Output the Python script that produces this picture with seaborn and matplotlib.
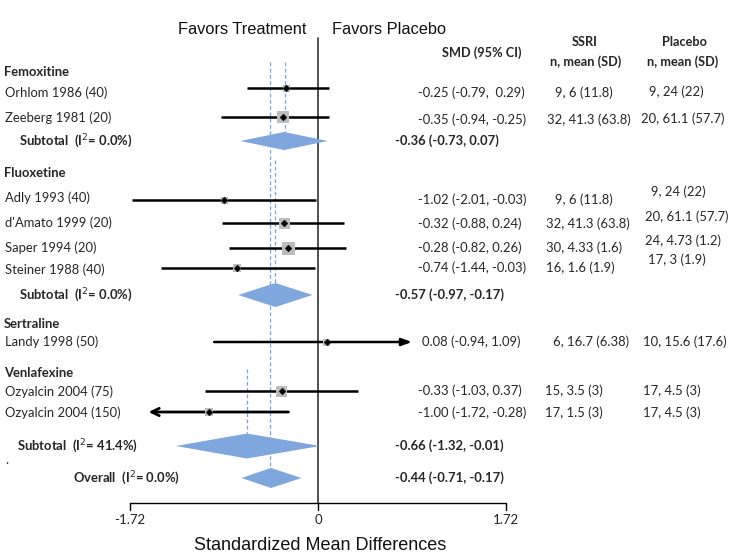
import numpy as np
import pandas as pd
import matplotlib
matplotlib.use("Agg")
import matplotlib.pyplot as plt
import seaborn as sns

# ---------------- data ----------------
drugs = ["Femoxitine", "Fluoxetine", "Sertraline", "Venlafexine"]
studies = ["Orhlom 1986 (40)", "Zeeberg 1981 (20)", "Adly 1993 (40)", "d'Amato 1999 (20)",
           "Saper 1994 (20)", "Steiner 1988 (40)", "Landy 1998 (50)",
           "Ozyalcin 2004 (75)", "Ozyalcin 2004 (150)"]
study_drug = ["Femoxitine", "Femoxitine", "Fluoxetine", "Fluoxetine", "Fluoxetine",
              "Fluoxetine", "Sertraline", "Venlafexine", "Venlafexine"]
# plotted estimates / CI ends as drawn
est = [-0.29, -0.32, -0.86, -0.31, -0.27, -0.74, 0.08, -0.33, -1.00]
ci_lo = [-0.65, -0.89, -1.70, -0.88, -0.81, -1.44, -0.95, -1.03, -1.55]
ci_hi = [0.10, 0.10, -0.02, 0.24, 0.26, -0.03, 0.86, 0.37, -0.27]
weight = [7, 12, 7, 11, 13, 8, 7, 11, 8]
arrow = ["", "", "", "", "", "", "right", "", "left"]
smd_text = ["-0.25 (-0.79,  0.29)", "-0.35 (-0.94, -0.25)", "-1.02 (-2.01, -0.03)",
            "-0.32 (-0.88, 0.24)", "-0.28 (-0.82, 0.26)", "-0.74 (-1.44, -0.03)",
            "0.08 (-0.94, 1.09)", "-0.33 (-1.03, 0.37)", "-1.00 (-1.72, -0.28)"]
ssri_text = ["9, 6 (11.8)", "32, 41.3 (63.8)", "9, 6 (11.8)", "32, 41.3 (63.8)",
             "30, 4.33 (1.6)", "16, 1.6 (1.9)", "6, 16.7 (6.38)", "15, 3.5 (3)", "17, 1.5 (3)"]
placebo_text = ["9, 24 (22)", "20, 61.1 (57.7)", "9, 24 (22)", "20, 61.1 (57.7)",
                "24, 4.73 (1.2)", "17, 3 (1.9)", "10, 15.6 (17.6)", "17, 4.5 (3)", "17, 4.5 (3)"]

pooled_names = ["Femoxitine", "Fluoxetine", "Venlafexine", "Overall"]
pooled_est = [-0.31, -0.39, -0.65, -0.43]
pooled_lo = [-0.71, -0.73, -1.30, -0.70]
pooled_hi = [0.09, -0.05, 0.02, -0.15]
pooled_label = ["Subtotal  (I$^2$= 0.0%)", "Subtotal  (I$^2$= 0.0%)",
                "Subtotal  (I$^2$= 41.4%)", "Overall  (I$^2$= 0.0%)"]
pooled_text = ["-0.36 (-0.73, 0.07)", "-0.57 (-0.97, -0.17)",
               "-0.66 (-1.32, -0.01)", "-0.44 (-0.71, -0.17)"]
ref_line = [-0.30, -0.39, -0.65, -0.44]

xticks = [-1.72, 0, 1.72]
xtick_labels = ["-1.72", "0", "1.72"]

# ---------------- layout (pixel rows) ----------------
W, H, DPI = 738, 554, 100
ZERO_PX, SCALE = 318.0, 109.3


def px2x(px):
    return (px - ZERO_PX) / SCALE


study_y = [88, 117, 200, 223, 248, 268, 342, 391, 412]
label_y = [93, 118, 198, 223, 248, 270, 342, 392, 413]
smd_y = [93, 120, 200, 224, 248, 268, 342, 391, 413]
ssri_x = [555, 547, 555, 546, 546, 546, 553, 545, 545]
plac_x = [649, 641, 651, 645, 645, 648, 643, 643, 643]
plac_y = [92, 119, 192, 217, 241, 260, 342, 391, 413]
head_y = [72, 173, 324, 373]
pooled_y = [141, 295, 446, 478]
pooled_h = [9, 12, 12.5, 10]
pooled_lab_x = [19, 19, 17, 73]
ref_y0 = [62, 160, 369, 62]
ref_y1 = [132, 283, 433, 468]

df = pd.DataFrame(dict(study=studies, drug=study_drug, est=est, lo=ci_lo, hi=ci_hi,
                       w=weight, y=study_y))

sns.set_theme(style="white")
plt.rcParams["font.family"] = ["Lato", "DejaVu Sans"]

fig = plt.figure(figsize=(W / DPI, H / DPI), dpi=DPI)
ax = fig.add_axes([0, 0, 1, 1])

DASH = "#7aa6da"
DIAM = "#7fa7dd"
SQ = "#bdbdbd"

# reference dashed lines
for xv, y0, y1 in zip(ref_line, ref_y0, ref_y1):
    ax.plot([xv, xv], [y0, y1], color=DASH, lw=0.9, ls=(0, (3, 2)), zorder=1)

# zero line
ax.plot([0, 0], [38, 503], color="#333333", lw=1.2, zorder=2)

# CI lines
for i, r in df.iterrows():
    if arrow[i] == "right":
        ax.annotate("", xy=(r.hi, r.y), xytext=(r.lo, r.y),
                    arrowprops=dict(arrowstyle="-|>,head_length=0.5,head_width=0.18",
                                    color="black", lw=1.8, shrinkA=0, shrinkB=0), zorder=3)
    elif arrow[i] == "left":
        ax.annotate("", xy=(r.lo, r.y), xytext=(r.hi, r.y),
                    arrowprops=dict(arrowstyle="->,head_length=0.45,head_width=0.22",
                                    color="black", lw=2.0, shrinkA=0, shrinkB=0), zorder=3)
    else:
        ax.plot([r.lo, r.hi], [r.y, r.y], color="black", lw=1.8, zorder=3,
                solid_capstyle="butt")

# squares
ax.scatter(df["est"], df["y"], marker="s", s=(df["w"] * 72 / DPI) ** 2,
           color=SQ, edgecolor="none", zorder=4)
# centre dots
sns.scatterplot(data=df, x="est", y="y", marker="D", s=12, color="black",
                edgecolor="black", linewidth=0.3, ax=ax, zorder=5, legend=False)

# diamonds
for c, lo, hi, yy, hh in zip(pooled_est, pooled_lo, pooled_hi, pooled_y, pooled_h):
    ax.fill([lo, c, hi, c], [yy, yy - hh, yy, yy + hh], color=DIAM, lw=0, zorder=3)

# x axis
ax.plot([xticks[0], xticks[-1]], [503, 503], color="black", lw=1.0, zorder=2)
for t, lab in zip(xticks, xtick_labels):
    ax.plot([t, t], [503, 510], color="black", lw=1.0)
    ax.text(t, 520, lab, ha="center", va="center", fontsize=9.5, color="#222222")

ax.text(px2x(320), 545, "Standardized Mean Differences", ha="center", va="center",
        fontsize=13, family=["Liberation Sans"], color="#111111")
ax.text(px2x(242), 30, "Favors Treatment", ha="center", va="center",
        fontsize=11.8, family=["Liberation Sans"], color="#111111")
ax.text(px2x(389), 30, "Favors Placebo", ha="center", va="center",
        fontsize=11.8, family=["Liberation Sans"], color="#111111")

# column headers
HFS = 9.2
ax.text(px2x(482), 53, "SMD (95% CI)", ha="center", va="center", fontsize=HFS, weight="bold")
ax.text(px2x(585), 42, "SSRI", ha="center", va="center", fontsize=HFS, weight="bold")
ax.text(px2x(586), 62, "n, mean (SD)", ha="center", va="center", fontsize=HFS, weight="bold")
ax.text(px2x(684), 42, "Placebo", ha="center", va="center", fontsize=HFS, weight="bold")
ax.text(px2x(683), 62, "n, mean (SD)", ha="center", va="center", fontsize=HFS, weight="bold")

FS = 9.4
for name, yy in zip(drugs, head_y):
    ax.text(px2x(4), yy, name, ha="left", va="center", fontsize=FS, weight="bold")

for i in range(len(studies)):
    ax.text(px2x(5), label_y[i], studies[i], ha="left", va="center", fontsize=FS)
    sx = 422 if not smd_text[i].startswith("-") else 418
    ax.text(px2x(sx), smd_y[i], smd_text[i], ha="left", va="center", fontsize=FS)
    ax.text(px2x(ssri_x[i]), smd_y[i], ssri_text[i], ha="left", va="center", fontsize=FS)
    ax.text(px2x(plac_x[i]), plac_y[i], placebo_text[i], ha="left", va="center", fontsize=FS)

for lab, yy, lx, txt in zip(pooled_label, pooled_y, pooled_lab_x, pooled_text):
    ax.text(px2x(lx), yy, lab, ha="left", va="center", fontsize=FS, weight="bold")
    ax.text(px2x(395), yy, txt, ha="left", va="center", fontsize=FS, weight="bold")

ax.text(px2x(5), 460, ".", ha="left", va="center", fontsize=FS)

ax.set_xlabel("")
ax.set_ylabel("")
ax.set_xlim(px2x(0), px2x(W))
ax.set_ylim(H, 0)
ax.axis("off")

fig.savefig("out.png", dpi=DPI)
